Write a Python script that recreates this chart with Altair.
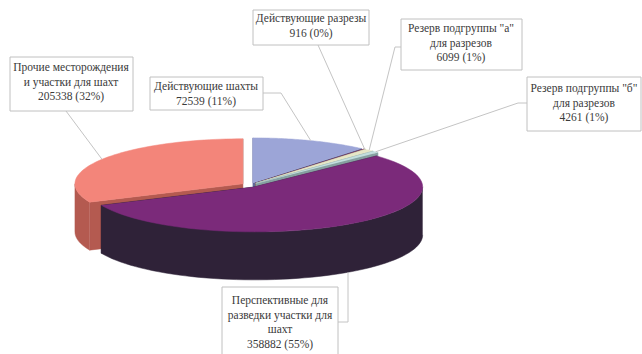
import altair as alt
import pandas as pd

# Coal reserves by category (thousand tonnes)
names = [
    "Действующие шахты",
    "Действующие разрезы",
    "Резерв подгруппы \"а\"\nдля разрезов",
    "Резерв подгруппы \"б\"\nдля разрезов",
    "Перспективные для\nразведки участки для\nшахт",
    "Прочие месторождения\nи участки для шахт",
]
values = [72539, 916, 6099, 4261, 358882, 205338]

# Slice styling (top face / side walls)
top_colors = ["#9ca5d7", "#8a3a62", "#e6e6c6", "#c2dede", "#7b2a7a", "#f3857a"]
side_colors = ["#5f6898", "#5a2040", "#a6a68c", "#86a0a0", "#2f2238", "#b45a50"]

# Pie geometry in pixels
CX, CY, RX, RY, DEPTH, EXPLODE, N = 250, 185, 168, 45, 48, 0.05, 60

# Label boxes, text anchors and leader-line routing
box = [(150, 77, 263, 110), (253, 10, 369, 45), (401, 19, 522, 70),
       (527, 77, 641, 131), (222, 287, 338, 362), (10, 57, 133, 111)]
text_pos = [(206, 81), (311, 13), (461, 23), (584, 83), (280, 295), (71, 62)]
elbow = [(281, 93), (318, 45), (395, 47), (518, 103), (348, 322), (66, 111)]
end = [(263, 93), (318, 45), (401, 47), (527, 103), (338, 322), (66, 111)]
anchor_drop = [0, 0, 0, 0, 1, 0]  # 1 = leader attaches to the bottom edge of the side wall

df = pd.DataFrame({
    "idx": list(range(len(names))),
    "name": names,
    "value": values,
    "bx1": [b[0] for b in box], "by1": [b[1] for b in box],
    "bx2": [b[2] for b in box], "by2": [b[3] for b in box],
    "tx": [t[0] for t in text_pos], "ty": [t[1] for t in text_pos],
    "ex": [e[0] for e in elbow], "ey": [e[1] for e in elbow],
    "lx": [e[0] for e in end], "ly": [e[1] for e in end],
    "drop": anchor_drop,
})

XP = dict(scale=None, axis=None)


def base():
    return (
        alt.Chart(df)
        .transform_joinaggregate(total="sum(value)")
        .transform_window(cum="sum(value)", sort=[alt.SortField("idx")], frame=[None, 0])
        .transform_calculate(a0="2*PI*(datum.cum-datum.value)/datum.total")
        .transform_calculate(a1="2*PI*datum.cum/datum.total")
        .transform_calculate(mid="(datum.a0+datum.a1)/2")
        .transform_calculate(ox=f"{CX}+{EXPLODE * RX}*sin(datum.mid)")
        .transform_calculate(oy=f"{CY}-{EXPLODE * RY}*cos(datum.mid)")
    )


def enc(ch, detail=None):
    kw = dict(x=alt.X("px:Q", **XP), y=alt.Y("py:Q", **XP), order="k:Q")
    if detail:
        kw["detail"] = detail
    return ch.encode(**kw)


def cut_faces(i):
    ch = (
        base().transform_filter(f"datum.idx=={i}")
        .transform_calculate(k="sequence(0,8)").transform_flatten(["k"])
        .transform_calculate(face="floor(datum.k/4)")
        .transform_calculate(j="datum.k%4")
        .transform_calculate(al="datum.face==0 ? datum.a0 : datum.a1")
        .transform_calculate(px=f"(datum.j==0||datum.j==3) ? datum.ox : datum.ox+{RX}*sin(datum.al)")
        .transform_calculate(py=f"((datum.j==0||datum.j==3) ? datum.oy : datum.oy-{RY}*cos(datum.al)) + (datum.j>=2 ? {DEPTH} : 0)")
        .mark_line(fill=side_colors[i], stroke=side_colors[i], strokeWidth=0.5)
    )
    return enc(ch, detail="face:N")


def wall(i):
    ch = (
        base().transform_filter(f"datum.idx=={i}")
        .transform_calculate(w0="max(datum.a0, PI/2)")
        .transform_calculate(w1="min(datum.a1, 3*PI/2)")
        .transform_filter("datum.w0 < datum.w1")
        .transform_calculate(k=f"sequence(0,{2 * N + 2})").transform_flatten(["k"])
        .transform_calculate(th=f"datum.k<={N} ? datum.w0+(datum.w1-datum.w0)*datum.k/{N} : datum.w1-(datum.w1-datum.w0)*(datum.k-{N + 1})/{N}")
        .transform_calculate(px=f"datum.ox+{RX}*sin(datum.th)")
        .transform_calculate(py=f"datum.oy-{RY}*cos(datum.th) + (datum.k>{N} ? {DEPTH} : 0)")
        .mark_line(fill=side_colors[i], stroke=side_colors[i], strokeWidth=0.5)
    )
    return enc(ch)


def top(i):
    ch = (
        base().transform_filter(f"datum.idx=={i}")
        .transform_calculate(k=f"sequence(0,{N + 2})").transform_flatten(["k"])
        .transform_calculate(th=f"datum.a0+(datum.a1-datum.a0)*(datum.k-1)/{N}")
        .transform_calculate(px=f"datum.k==0 ? datum.ox : datum.ox+{RX}*sin(datum.th)")
        .transform_calculate(py=f"datum.k==0 ? datum.oy : datum.oy-{RY}*cos(datum.th)")
        .mark_line(fill=top_colors[i], stroke=top_colors[i], strokeWidth=0.5)
    )
    return enc(ch)


layers = []
# back-to-front drawing order of the slices
for i in [0, 1, 2, 3, 5, 4]:
    layers += [cut_faces(i), wall(i), top(i)]

leaders = enc(
    base()
    .transform_calculate(k="sequence(0,3)").transform_flatten(["k"])
    .transform_calculate(px=f"datum.k==0 ? datum.ox+{RX}*sin(datum.mid) : (datum.k==1 ? datum.ex : datum.lx)")
    .transform_calculate(py=f"datum.k==0 ? datum.oy-{RY}*cos(datum.mid)+datum.drop*{DEPTH} : (datum.k==1 ? datum.ey : datum.ly)")
    .mark_line(stroke="#c4c4c4", strokeWidth=1),
    detail="name:N",
)

boxes = alt.Chart(df).mark_rect(fill="white", stroke="#c0c0c0", strokeWidth=1).encode(
    x=alt.X("bx1:Q", **XP), x2="bx2:Q", y=alt.Y("by1:Q", **XP), y2="by2:Q"
)

labels = (
    base()
    .transform_calculate(label="datum.name + '\\n' + datum.value + ' (' + format(datum.value/datum.total, '.0%') + ')'")
    .mark_text(font="Liberation Serif, Times New Roman, serif", fontSize=11.5, lineBreak="\n",
               align="center", baseline="top", lineHeight=14.5, color="#3a3a3a")
    .encode(x=alt.X("tx:Q", **XP), y=alt.Y("ty:Q", **XP), text="label:N")
)

chart = (
    alt.layer(*layers, leaders, boxes, labels)
    .properties(width=642, height=354, padding=0, autosize="none", background="white")
    .configure_view(stroke=None)
)

chart.save("out.html", embed_options={"renderer": "svg", "actions": False})
